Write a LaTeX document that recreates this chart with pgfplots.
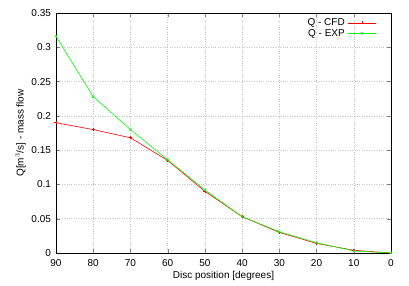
\documentclass[border=0pt]{standalone}
\usepackage{pgfplots}
\pgfplotsset{compat=1.18}
\usepackage{fontspec}
\setmainfont{Liberation Sans}
\begin{document}
\begin{tikzpicture}
\path[use as bounding box] (-56pt,-33pt) rectangle (353pt,253pt);
\begin{axis}[
  scale only axis,
  width=335pt, height=240pt,
  at={(0,0)}, anchor=south west,
  x dir=reverse,
  xmin=0, xmax=90, ymin=0, ymax=0.35,
  xtick={0,10,...,90},
  ytick={0,0.05,0.1,0.15,0.2,0.25,0.3,0.35},
  yticklabel style={/pgf/number format/fixed,/pgf/number format/precision=2, xshift=-1.5pt},
  xticklabel style={yshift=-2.5pt},
  /pgf/number format/assume math mode=true,
  tick label style={font=\fontsize{10}{12}\selectfont},
  label style={font=\fontsize{10}{12}\selectfont},
  tick align=inside,
  major tick length=4pt,
  grid=major,
  grid style={gray!45, dotted, line width=0.5pt},
  axis line style={black, line width=0.7pt},
  xlabel={Disc position [degrees]},
  ylabel={Q[m$^3$/s] - mass flow},
  xlabel style={yshift=2pt},
  ylabel style={yshift=-1pt},
  legend plot pos=right,
  legend cell align=right,
  legend image code/.code={\draw[mark repeat=2,mark phase=2] plot coordinates {(0pt,0pt) (14pt,0pt) (28pt,0pt)};},
  legend style={draw=none, fill=none, at={(0.96,0.99)}, anchor=north east,
    font=\fontsize{10}{10}\selectfont, row sep=-2pt, inner sep=1pt,
    nodes={inner xsep=3pt}},
]
\addplot[red, line width=0.6pt, mark=+, mark size=1.5pt] coordinates {
(90,0.19) (80,0.18) (70,0.168) (60,0.135) (50,0.09) (40,0.053) (30,0.03) (20,0.014) (10,0.004) (0,0)};
\addlegendentry{Q - CFD}
\addplot[green, line width=0.6pt, mark=x, mark size=1.5pt] coordinates {
(90,0.316) (80,0.228) (70,0.18) (60,0.136) (50,0.092) (40,0.053) (30,0.031) (20,0.015) (10,0.003) (0,0)};
\addlegendentry{Q - EXP}
\end{axis}
\end{tikzpicture}
\end{document}
